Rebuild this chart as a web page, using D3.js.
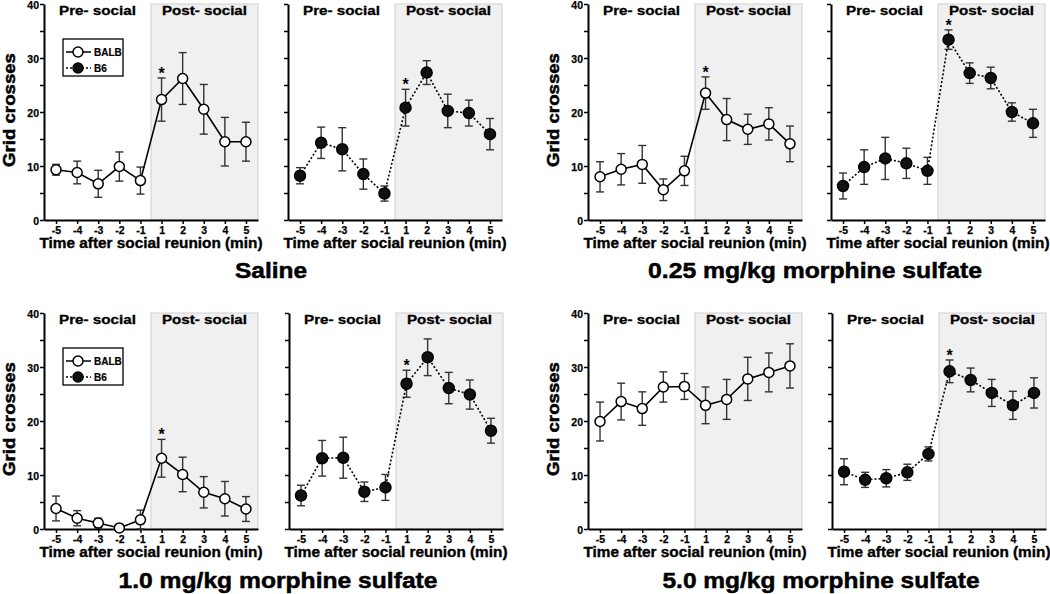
<!DOCTYPE html>
<html>
<head>
<meta charset="utf-8">
<script src="https://cdn.jsdelivr.net/npm/d3@7"></script>
<style>
  body { margin: 0; background: #fff; }
  svg text { font-family: "Liberation Sans", Arial, sans-serif; font-weight: bold; fill: #000; }
</style>
</head>
<body>
<div class="grafico"></div>
<script>
// minutes around the reunion
const timeLabels = ["-5", "-4", "-3", "-2", "-1", "1", "2", "3", "4", "5"];
const yTicks = [0, 5, 10, 15, 20, 25, 30, 35, 40];

// Saline
const salineBalbMean = [9.3, 8.8, 6.7, 9.9, 7.3, 22.3, 26.2, 20.5, 14.5, 14.5];
const salineBalbSem  = [1.0, 2.1, 2.5, 2.7, 2.5, 4.0, 4.8, 4.6, 4.5, 3.6];
const salineB6Mean   = [8.2, 14.3, 13.1, 8.5, 4.9, 20.8, 27.3, 20.2, 19.8, 15.9];
const salineB6Sem    = [1.5, 2.9, 4.0, 2.8, 1.4, 3.4, 2.2, 3.1, 2.4, 2.9];
// 0.25 mg/kg
const m025BalbMean = [8.0, 9.4, 10.3, 5.6, 9.1, 23.5, 18.6, 16.8, 17.8, 14.1];
const m025BalbSem  = [2.8, 2.9, 3.5, 2.0, 2.7, 3.0, 3.9, 2.8, 3.0, 3.3];
const m025B6Mean   = [6.3, 9.8, 11.4, 10.5, 9.1, 33.4, 27.2, 26.3, 20.0, 17.9];
const m025B6Sem    = [2.4, 3.2, 3.9, 2.8, 2.5, 1.8, 1.9, 2.0, 1.7, 2.6];
// 1.0 mg/kg
const m10BalbMean = [3.8, 2.0, 1.1, 0.2, 1.7, 13.1, 10.1, 6.8, 5.6, 3.7];
const m10BalbSem  = [2.3, 1.4, 0.9, 0.2, 1.8, 3.5, 3.2, 2.9, 3.2, 2.3];
const m10B6Mean   = [6.2, 13.1, 13.2, 6.9, 7.7, 26.9, 31.8, 26.1, 24.9, 18.2];
const m10B6Sem    = [1.9, 3.3, 3.8, 1.8, 2.4, 2.5, 3.4, 2.9, 2.7, 2.3];
// 5.0 mg/kg
const m50BalbMean = [19.9, 23.6, 22.3, 26.3, 26.4, 22.9, 24.0, 27.8, 29.0, 30.2];
const m50BalbSem  = [3.6, 3.4, 3.1, 2.8, 2.4, 3.4, 3.7, 4.0, 3.6, 4.1];
const m50B6Mean   = [10.6, 9.1, 9.4, 10.5, 13.9, 29.2, 27.6, 25.2, 22.9, 25.2];
const m50B6Sem    = [2.4, 1.4, 1.6, 1.5, 1.3, 2.1, 2.2, 2.5, 2.6, 2.8];

const doseTitles = ["Saline", "0.25 mg/kg morphine sulfate", "1.0 mg/kg morphine sulfate", "5.0 mg/kg morphine sulfate"];

var width = 1050, height = 594, pw = 214, ph = 216;
var rowTop = [4, 313];

var panels = [
  { row: 0, left: 44,  mean: salineBalbMean, sem: salineBalbSem, strain: "BALB", labels: true,  legend: true,  star: true },
  { row: 0, left: 288, mean: salineB6Mean,   sem: salineB6Sem,   strain: "B6",   labels: false, legend: false, star: true },
  { row: 0, left: 588, mean: m025BalbMean,   sem: m025BalbSem,   strain: "BALB", labels: true,  legend: false, star: true },
  { row: 0, left: 831, mean: m025B6Mean,     sem: m025B6Sem,     strain: "B6",   labels: false, legend: false, star: true },
  { row: 1, left: 44,  mean: m10BalbMean,    sem: m10BalbSem,    strain: "BALB", labels: true,  legend: true,  star: true },
  { row: 1, left: 289, mean: m10B6Mean,      sem: m10B6Sem,      strain: "B6",   labels: false, legend: false, star: true },
  { row: 1, left: 588, mean: m50BalbMean,    sem: m50BalbSem,    strain: "BALB", labels: true,  legend: false, star: false },
  { row: 1, left: 832, mean: m50B6Mean,      sem: m50B6Sem,      strain: "B6",   labels: false, legend: false, star: true }
];

var titlePos = [[271, 278, 72], [815, 278, 334], [278, 588, 319], [821, 588, 317]];

var svg = d3.select(".grafico").append("svg")
  .attr("width", width).attr("height", height);

var x = d3.scalePoint().domain(timeLabels).range([0, pw]).padding(0.57);
var y = d3.scaleLinear().domain([0, 40]).range([ph, 0]);

function drawMarker(sel, strain, r) {
  sel.attr("r", r)
    .attr("fill", strain === "BALB" ? "#fff" : "#111")
    .attr("stroke", "#000")
    .attr("stroke-width", 1.5);
}

panels.forEach(p => {
  var g = svg.append("g")
    .attr("transform", "translate(" + p.left + "," + rowTop[p.row] + ")");
  var split = (x("-1") + x("1")) / 2;

  // post-social shading
  g.append("rect")
    .attr("x", split).attr("y", y(40))
    .attr("width", pw - split).attr("height", y(0) - y(40))
    .attr("fill", "#f0f0f0").attr("stroke", "#cfcfcf").attr("stroke-width", 1);

  g.append("text").attr("x", split / 2).attr("y", 11).attr("text-anchor", "middle")
    .attr("font-size", 12.5).attr("textLength", 77).attr("lengthAdjust", "spacingAndGlyphs")
    .attr("stroke", "#000").attr("stroke-width", 0.3)
    .text("Pre- social");
  g.append("text").attr("x", (split + pw) / 2).attr("y", 11).attr("text-anchor", "middle")
    .attr("font-size", 12.5).attr("textLength", 85).attr("lengthAdjust", "spacingAndGlyphs")
    .attr("stroke", "#000").attr("stroke-width", 0.3)
    .text("Post- social");

  // axes
  var ya = g.append("g").attr("class", "axis axis--y")
    .call(d3.axisLeft(y).tickValues(yTicks).tickSize(4).tickSizeOuter(0)
      .tickFormat(d => (p.labels && d % 10 === 0) ? d : ""));
  var xa = g.append("g").attr("class", "axis axis--x")
    .attr("transform", "translate(0," + ph + ")")
    .call(d3.axisBottom(x).tickSize(4).tickSizeOuter(0));
  [ya, xa].forEach(a => {
    a.select(".domain").attr("stroke-width", 2);
    a.selectAll(".tick line").attr("stroke-width", 1.5);
    a.selectAll("text").attr("font-size", 10.5).attr("font-family", "Liberation Sans, Arial, sans-serif")
      .attr("font-weight", "bold").attr("stroke", "#000").attr("stroke-width", 0.25);
  });
  ya.selectAll("text").attr("x", -5).attr("dy", "0.42em");

  g.append("text").attr("x", pw / 2).attr("y", ph + 28).attr("text-anchor", "middle")
    .attr("font-size", 14).attr("textLength", 223).attr("lengthAdjust", "spacingAndGlyphs")
    .attr("stroke", "#000").attr("stroke-width", 0.35)
    .text("Time after social reunion (min)");

  if (p.labels) {
    g.append("text").attr("transform", "translate(-35," + (ph / 2 - 2) + ") rotate(-90)")
      .attr("text-anchor", "middle").attr("dominant-baseline", "central")
      .attr("font-size", 17).attr("textLength", 114).attr("lengthAdjust", "spacingAndGlyphs")
      .attr("stroke", "#000").attr("stroke-width", 0.5)
      .text("Grid crosses");
  }

  var pts = timeLabels.map((t, i) => ({ t: t, m: p.mean[i], s: p.sem[i] }));

  // error bars
  var eb = g.selectAll(".eb").data(pts).enter().append("g").attr("class", "eb")
    .attr("stroke", "#333").attr("stroke-width", 1.4);
  eb.append("line").attr("x1", d => x(d.t)).attr("x2", d => x(d.t))
    .attr("y1", d => y(d.m + d.s)).attr("y2", d => y(Math.max(0, d.m - d.s)));
  eb.append("line").attr("x1", d => x(d.t) - 4).attr("x2", d => x(d.t) + 4)
    .attr("y1", d => y(d.m + d.s)).attr("y2", d => y(d.m + d.s));
  eb.append("line").attr("x1", d => x(d.t) - 4).attr("x2", d => x(d.t) + 4)
    .attr("y1", d => y(Math.max(0, d.m - d.s))).attr("y2", d => y(Math.max(0, d.m - d.s)));

  var line = d3.line().x(d => x(d.t)).y(d => y(d.m));
  g.append("path").datum(pts).attr("d", line)
    .attr("fill", "none").attr("stroke", "#000").attr("stroke-width", 1.6)
    .attr("stroke-dasharray", p.strain === "B6" ? "2,2" : null);

  g.selectAll(".dot").data(pts).enter().append("circle").attr("class", "dot")
    .attr("cx", d => x(d.t)).attr("cy", d => y(d.m))
    .call(s => drawMarker(s, p.strain, p.strain === "B6" ? 5.5 : 5));

  if (p.star) {
    var d1 = pts[5];
    g.append("text").attr("x", x(d1.t)).attr("y", y(d1.m + d1.s) + 1)
      .attr("text-anchor", "middle").attr("font-size", 16).text("*");
  }

  if (p.legend) {
    var lg = g.append("g").attr("transform", "translate(19,35)");
    lg.append("rect").attr("width", 60).attr("height", 37)
      .attr("fill", "#fff").attr("stroke", "#000").attr("stroke-width", 1.3);
    ["BALB", "B6"].forEach((s, i) => {
      var yy = 13 + i * 16;
      lg.append("line").attr("x1", 3).attr("x2", 28).attr("y1", yy).attr("y2", yy)
        .attr("stroke", "#000").attr("stroke-width", 1.5)
        .attr("stroke-dasharray", s === "B6" ? "2,2" : null);
      lg.append("circle").attr("cx", 15).attr("cy", yy).call(c => drawMarker(c, s, 5));
      lg.append("text").attr("x", 31).attr("y", yy + 3.5).attr("font-size", 10)
        .attr("stroke", "#000").attr("stroke-width", 0.2).text(s);
    });
  }
});

doseTitles.forEach((t, i) => {
  svg.append("text").attr("x", titlePos[i][0]).attr("y", titlePos[i][1])
    .attr("text-anchor", "middle").attr("font-size", 22)
    .attr("textLength", titlePos[i][2]).attr("lengthAdjust", "spacingAndGlyphs")
    .attr("stroke", "#000").attr("stroke-width", 0.5)
    .text(t);
});
</script>
</body>
</html>
